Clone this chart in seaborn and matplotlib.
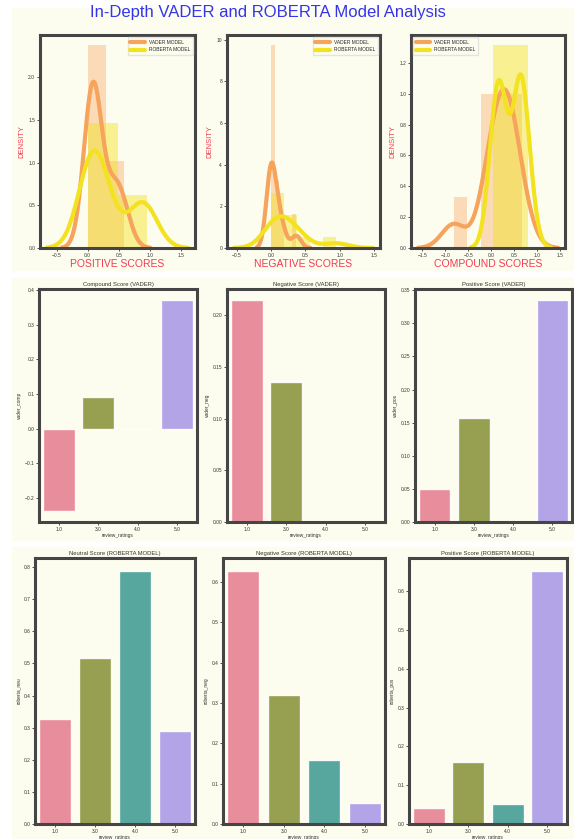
# %%
# import libraries
import matplotlib.pyplot as plt
import pandas as pd
import seaborn as sns
from matplotlib.patches import Rectangle
from matplotlib.ticker import MultipleLocator

# %%
# sentiment scores per review
vader_pos_scores = [0.0, 0.05, 0.08, 0.1, 0.1, 0.12, 0.15, 0.4, 0.45, 0.59]
roberta_pos_scores = [0.0, 0.02, 0.05, 0.1, 0.15, 0.2, 0.35, 0.8, 0.9, 0.96]
vader_neg_scores = [0.0, 0.0, 0.0, 0.0, 0.0, 0.0, 0.07, 0.11, 0.17, 0.37]
roberta_neg_scores = [0.0, 0.02, 0.05, 0.1, 0.15, 0.22, 0.28, 0.33, 0.45, 0.95]
vader_comp_scores = [-0.82, -0.05, 0.02, 0.06, 0.25, 0.32, 0.36, 0.4, 0.45, 0.68]
roberta_comp_scores = [0.05, 0.1, 0.16, 0.22, 0.28, 0.59, 0.62, 0.64, 0.66, 0.81]

# mean scores per review rating
review_ratings = ["1.0", "3.0", "4.0", "5.0"]
vader_comp = [-0.239, 0.092, 0.0, 0.373]
vader_neg = [0.2145, 0.1356, 0.0, 0.0]
vader_pos = [0.05, 0.157, 0.0, 0.335]
roberta_neu = [0.326, 0.516, 0.789, 0.289]
roberta_neg = [0.628, 0.321, 0.159, 0.053]
roberta_pos = [0.042, 0.159, 0.051, 0.653]

# %%
cream = "#fdfdef"
orange = "#f6a35c"
yellow = "#f2e21f"
red = "#f23a52"

sns.set_theme(style="ticks", rc={
    "axes.facecolor": cream,
    "axes.edgecolor": "#454545",
    "axes.linewidth": 2.2,
    "xtick.major.size": 2,
    "ytick.major.size": 2,
    "xtick.major.width": 0.6,
    "ytick.major.width": 0.6,
    "xtick.labelsize": 3.5,
    "ytick.labelsize": 3.5,
    "xtick.color": "#333333",
    "ytick.color": "#333333",
})
plt.rcParams["font.family"] = ["Liberation Sans", "DejaVu Sans"]

fig = plt.figure(figsize=(5.74, 8.39), dpi=100, facecolor="white")
W, H = 574, 839


def px_axes(x0, y0, x1, y1):
    return fig.add_axes([x0 / W, 1 - y1 / H, (x1 - x0) / W, (y1 - y0) / H])


# cream panels behind each row
for y0, y1 in [(8, 270), (278, 540), (547, 839)]:
    fig.add_artist(Rectangle((12 / W, 1 - y1 / H), 1, (y1 - y0) / H,
                             transform=fig.transFigure, color=cream, zorder=-10))

fig.text(0.466, 1 - 13 / H, "In-Depth VADER and ROBERTA Model Analysis",
         color="#3434ec", fontsize=12, ha="center", va="center")

# %%
# ! row 1: density plots
top_axes = [px_axes(40, 35, 195, 248), px_axes(227, 35, 380, 248), px_axes(411, 35, 565, 248)]
dists = [
    (vader_pos_scores, roberta_pos_scores, "POSITIVE SCORES", 2, 2, 1.1, 0.9, "upper right"),
    (vader_neg_scores, roberta_neg_scores, "NEGATIVE SCORES", 6, 5, 0.9, 1.0, "upper right"),
    (vader_comp_scores, roberta_comp_scores, "COMPOUND SCORES", 5, 2, 1.0, 0.95, "upper left"),
]
for ax, (v, r, xlab, bv, br, adj_v, adj_r, loc) in zip(top_axes, dists):
    sns.histplot(x=v, bins=bv, stat="density", color=orange, alpha=0.38,
                 linewidth=0, ax=ax)
    sns.histplot(x=r, bins=br, stat="density", color=yellow, alpha=0.45,
                 linewidth=0, ax=ax)
    sns.kdeplot(x=v, bw_adjust=adj_v, color=orange, lw=3, label="VADER MODEL", ax=ax)
    sns.kdeplot(x=r, bw_adjust=adj_r, color=yellow, lw=3, label="ROBERTA MODEL", ax=ax)
    ax.xaxis.set_major_locator(MultipleLocator(0.5))
    ax.set_xlabel(xlab, color=red, fontsize=7.5, labelpad=1)
    ax.set_ylabel("DENSITY", color=red, fontsize=5.5, labelpad=2)
    ax.legend(loc=loc, fontsize=3.5, frameon=True, edgecolor="#dddddd",
              facecolor=cream, handlelength=3, borderpad=0.5)
    ax.tick_params(pad=1.5)

# %%
# ! rows 2-3: mean score per rating
bar_specs = [
    ((39, 289, 197, 522), "vader_comp", vader_comp, "Compound Score (VADER)"),
    ((227, 289, 385, 522), "vader_neg", vader_neg, "Negative Score (VADER)"),
    ((415, 289, 572, 522), "vader_pos", vader_pos, "Positive Score (VADER)"),
    ((35, 558, 195, 824), "roberta_neu", roberta_neu, "Neutral Score (ROBERTA MODEL)"),
    ((223, 558, 385, 824), "roberta_neg", roberta_neg, "Negative Score (ROBERTA MODEL)"),
    ((409, 558, 567, 824), "roberta_pos", roberta_pos, "Positive Score (ROBERTA MODEL)"),
]
for rect, col, vals, title in bar_specs:
    ax = px_axes(*rect)
    df = pd.DataFrame({"review_ratings": review_ratings, col: vals})
    sns.barplot(data=df, x="review_ratings", y=col, hue="review_ratings",
                palette="husl", alpha=0.9, legend=False, ax=ax)
    ax.set_title(title, fontsize=4.2, pad=2, color="#333333")
    ax.set_xlabel("review_ratings", fontsize=3.5, labelpad=1, color="#333333")
    ax.set_ylabel(col, fontsize=3.5, labelpad=2, color="#333333")
    ax.tick_params(pad=1.5)

fig.savefig("out.png", dpi=100, facecolor="white")
